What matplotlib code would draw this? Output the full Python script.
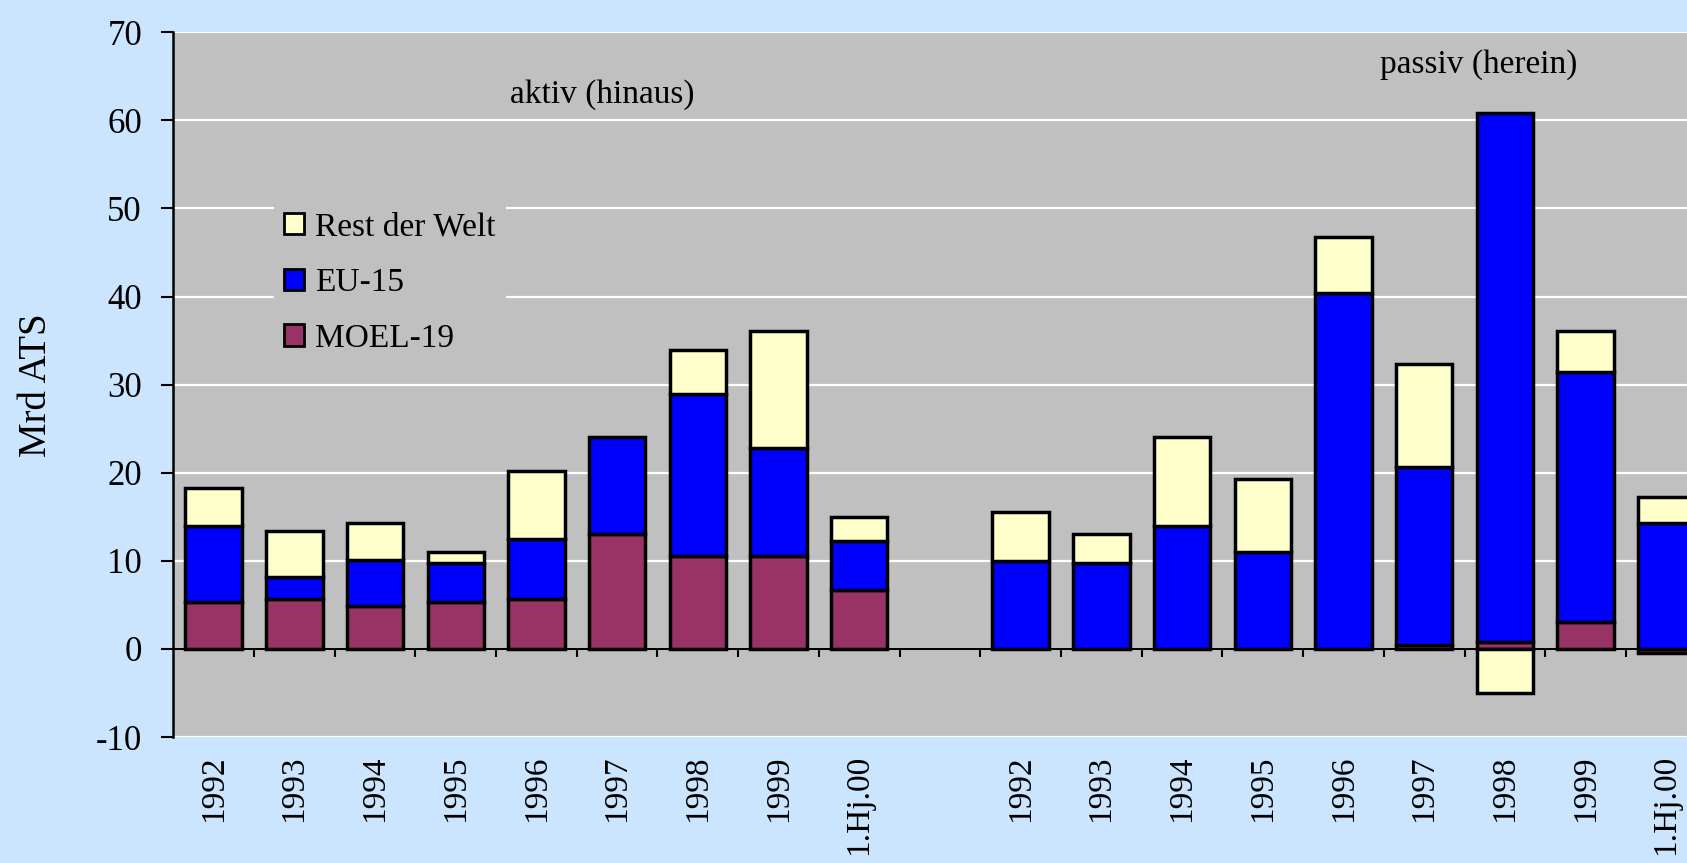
import numpy as np
import matplotlib
matplotlib.use("Agg")
import matplotlib.pyplot as plt
from matplotlib.ticker import FixedLocator

# ---- data ----
categories = ["1992", "1993", "1994", "1995", "1996", "1997", "1998", "1999", "1.Hj.00",
              "",
              "1992", "1993", "1994", "1995", "1996", "1997", "1998", "1999", "1.Hj.00"]
moel_19 = [5.3, 5.7, 4.9, 5.3, 5.7, 13.0, 10.5, 10.5, 6.7,
           0.0,
           0.0, 0.0, 0.0, 0.0, 0.0, 0.4, 0.8, 3.1, -0.5]
eu_15 = [8.6, 2.5, 5.2, 4.4, 6.8, 11.1, 18.4, 12.3, 5.5,
         0.0,
         10.0, 9.7, 13.9, 11.0, 40.4, 20.3, 60.0, 28.3, 14.3]
rest_der_welt = [4.4, 5.2, 4.2, 1.3, 7.7, 0.0, 5.0, 13.3, 2.8,
                 0.0,
                 5.5, 3.3, 10.2, 8.3, 6.4, 11.6, -5.0, 4.7, 3.0]
series_names = ["MOEL-19", "EU-15", "Rest der Welt"]
series_colors = ["#993366", "#0000FF", "#FFFFCC"]
y_ticks = [-10, 0, 10, 20, 30, 40, 50, 60, 70]
group_labels = ["aktiv (hinaus)", "passiv (herein)"]

plt.rcParams['font.family'] = ['Liberation Serif', 'DejaVu Serif']

fig = plt.figure(figsize=(16.87, 8.63), dpi=100)
fig.patch.set_facecolor("#CCE5FF")
ax = fig.add_axes([173.3 / 1687, 1 - 737 / 863, (19 * 80.7) / 1687, (737 - 32.3) / 863])
ax.set_facecolor("#C0C0C0")

x = np.arange(len(categories))
pos_bottom = np.zeros(len(categories))
neg_bottom = np.zeros(len(categories))
handles = []
for name, vals, col in zip(series_names, [moel_19, eu_15, rest_der_welt], series_colors):
    v = np.array(vals, dtype=float)
    bottom = np.where(v >= 0, pos_bottom, neg_bottom)
    mask = v != 0
    b = ax.bar(x[mask], v[mask], bottom=bottom[mask], width=0.70, color=col,
               edgecolor="black", linewidth=2.5, zorder=3, label=name)
    handles.append(b)
    pos_bottom = np.where(v >= 0, pos_bottom + v, pos_bottom)
    neg_bottom = np.where(v < 0, neg_bottom + v, neg_bottom)

ax.set_xlim(-0.5, len(categories) - 0.5)
ax.set_ylim(-10, 70)
ax.set_yticks(y_ticks)
ax.set_yticklabels([str(t) for t in y_ticks], fontsize=25)
ax.tick_params(axis="y", direction="out", length=8.5, width=1.5, pad=14, colors="black")
ax.yaxis.grid(True, color="white", linewidth=1.6, zorder=0)
ax.set_axisbelow(True)

for s in ["top", "right"]:
    ax.spines[s].set_visible(False)
ax.spines["left"].set_linewidth(1.8)
ax.spines["bottom"].set_position(("data", 0))
ax.spines["bottom"].set_linewidth(1.5)
ax.spines["bottom"].set_zorder(4)

# boundary ticks on the zero line
ax.xaxis.set_major_locator(FixedLocator(np.arange(0.5, len(categories) - 0.5, 1.0)))
ax.tick_params(axis="x", direction="out", length=6, width=1.5, labelbottom=False)

# category labels at bottom of plot area
sec = ax.secondary_xaxis("bottom")
sec.set_xticks(x)
sec.set_xticklabels(categories, rotation=90, fontsize=24)
sec.tick_params(length=0, pad=13)
sec.spines["bottom"].set_visible(False)

fig.text(36 / 1687, 1 - 385 / 863, "Mrd ATS", rotation=90, ha="center", va="center", fontsize=28)

ax.text(4.81, 62.9, group_labels[0], ha="center", va="center", fontsize=24, zorder=5)
ax.text(15.68, 66.3, group_labels[1], ha="center", va="center", fontsize=24, zorder=5)

leg = ax.legend(handles=handles[::-1], labels=series_names[::-1], loc="upper left",
                bbox_to_anchor=((257 - 173.3) / (19 * 80.7), (737 - 185) / (737 - 32.3)),
                fontsize=24, frameon=True, facecolor="#C0C0C0", edgecolor="none",
                framealpha=1, handlelength=0.6, handleheight=0.6, handletextpad=0.35,
                labelspacing=0.76, borderpad=0.3)
leg.set_zorder(6)
for h in leg.legend_handles:
    h.set_linewidth(2.0)

fig.savefig("out.png", dpi=100, facecolor=fig.get_facecolor())
